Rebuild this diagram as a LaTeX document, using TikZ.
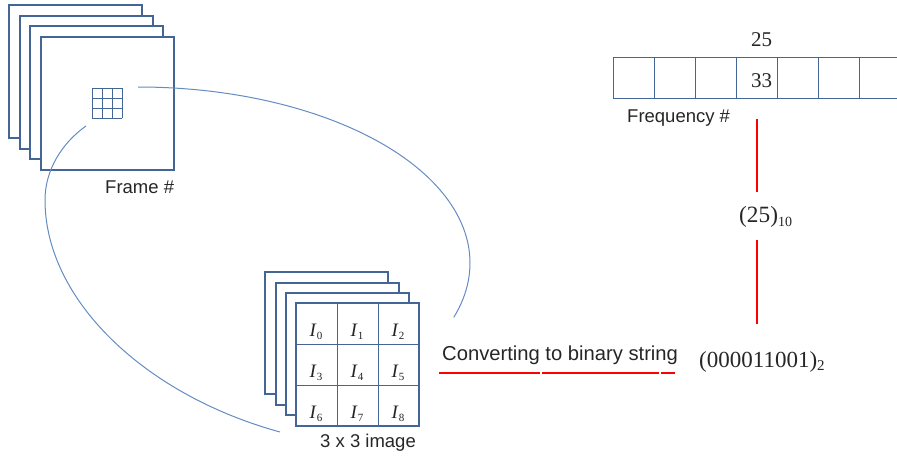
\documentclass[tikz,border=0pt]{standalone}
\usepackage{fontspec}
\setmainfont{Liberation Serif}
\newfontfamily\arialf{Liberation Sans}
\definecolor{frm}{RGB}{68,102,150}
\definecolor{crv}{RGB}{100,140,195}
\begin{document}
\begin{tikzpicture}[x=1pt,y=-1pt,
  framebox/.style={draw=frm,line width=1.1pt,fill=white},
  gridline/.style={draw=frm,line width=0.9pt},
  curveline/.style={draw=crv,line width=1pt},
  rstroke/.style={red,line width=1.2pt},
  sanslab/.style={font=\arialf\fontsize{18.5}{20}\selectfont,inner sep=0pt,anchor=base west,text=black!85},
  seriflab/.style={font=\fontsize{21}{23}\selectfont,inner sep=0pt,anchor=base west,text=black!85},
  ilabel/.style={font=\fontsize{19}{21}\selectfont,inner sep=0pt,anchor=base,text=black!85}]
\useasboundingbox (0,0) rectangle (897,457);
% big frame stack
\foreach \x/\y in {9/5,20/16,30/26,41/37}
  \draw[framebox] (\x,\y) rectangle ++(133,133);
% small grid in frame
\foreach \k in {0,10,20,30} {
  \draw[gridline] (92+\k,88) -- (92+\k,118);
  \draw[gridline] (92,88+\k) -- (122,88+\k);
}
\node[sanslab] (framelab) at (105,194) {Frame \#};
% curves
\coordinate (a1) at (138,87);
\coordinate (b1) at (86,126);
\coordinate (b2) at (280,432);
\draw[curveline] (a1) arc[start angle=-90,end angle=18,x radius=332,y radius=176];
\draw[curveline] (b1) .. controls (62,143) and (45,170) .. (45,200)
  .. controls (45,300) and (145,395) .. (b2);
% small image stack
\foreach \x/\y in {265/272,276/283,286/293}
  \draw[framebox] (\x,\y) rectangle ++(123,122);
\draw[framebox] (296,303) rectangle (419,426);
\foreach \k in {41,82} {
  \draw[gridline] (296+\k,303) -- (296+\k,426);
  \draw[gridline] (296,303+\k) -- (419,303+\k);
}
\foreach \i in {0,...,8} {
  \pgfmathtruncatemacro{\cx}{296+41*mod(\i,3)+20}
  \pgfmathtruncatemacro{\cy}{303+41*int(\i/3)+33}
  \node[ilabel] (ilab\i) at (\cx,\cy) {\textit{I}\raisebox{-0.45ex}{\fontsize{11}{11}\selectfont\i}};
}
\node[sanslab] (imglab) at (320,447) {3 x 3 image};
% frequency array
\draw[gridline] (897,57) -- (613,57) -- (613,98) -- (897,98);
\foreach \x in {654,695,736,777,818,859}
  \draw[gridline] (\x,57) -- (\x,98);
\node[seriflab] (n25) at (751,47) {25};
\node[seriflab] (n33) at (751,88) {33};
\node[sanslab] (freqlab) at (627,123) {Frequency \#};
% red vertical connector
\coordinate (r1) at (757,119);
\coordinate (r2) at (757,192);
\coordinate (r3) at (757,240);
\coordinate (r4) at (757,324);
\draw[rstroke] (r1) -- (r2);
\draw[rstroke] (r3) -- (r4);
\node[seriflab,font=\fontsize{23.3}{25}\selectfont] (dec) at (739,223) {(25)\raisebox{-0.35ex}{\fontsize{14}{14}\selectfont 10}};
% conversion
\node[sanslab,font=\arialf\fontsize{20.2}{22}\selectfont] (convlab) at (442,360) {Converting to binary string};
\coordinate (u1) at (439,373);
\coordinate (u2) at (540,373);
\coordinate (u3) at (542,373);
\coordinate (u4) at (659,373);
\coordinate (u5) at (661,373);
\coordinate (u6) at (675,373);
\draw[rstroke] (u1) -- (u2);
\draw[rstroke] (u3) -- (u4);
\draw[rstroke] (u5) -- (u6);
\node[seriflab,font=\fontsize{23}{25}\selectfont] (bin) at (699,367) {(000011001)\raisebox{-0.35ex}{\fontsize{15}{15}\selectfont 2}};
\end{tikzpicture}
\end{document}
